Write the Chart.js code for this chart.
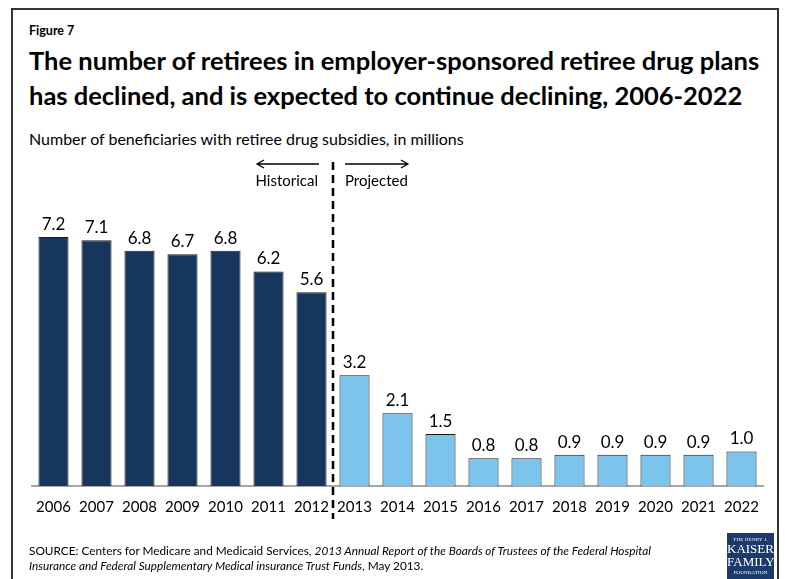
<!DOCTYPE html>
<html>
<head>
<meta charset="utf-8">
<script src="https://cdn.jsdelivr.net/npm/chart.js@4.4.1/dist/chart.umd.min.js"></script>
<style>
  html, body { margin:0; padding:0; background:#fff; }
  body { width:785px; height:579px; position:relative; overflow:hidden; font-family:Lato, "Open Sans", sans-serif; color:#000; }
  #frame { position:absolute; left:11px; top:8px; width:768px; height:620px; border:2px solid #333; box-sizing:border-box; }
  .txt { position:absolute; white-space:nowrap; }
  #fig { left:29px; top:23px; font-size:12.5px; font-weight:bold; }
  #title { left:29px; top:43px; font-size:25.5px; font-weight:bold; line-height:35px; }
  #sub { left:29px; top:129px; font-size:16px; }
  #source { left:29px; top:543px; font-size:11.8px; line-height:15px; }
  #logo { position:absolute; left:727px; top:533px; width:47px; height:46px; background:#1c3b6c; color:#fff;
          font-family:"Liberation Serif", "DejaVu Serif", serif; text-align:center; line-height:1; }
  #logo .s { font-size:5px; letter-spacing:0.2px; }
  #logo .b { font-size:13px; }
  #wrap { position:absolute; left:0; top:0; width:785px; height:579px; }
</style>
</head>
<body>
<div id="frame"></div>
<div class="txt" id="fig">Figure 7</div>
<div class="txt" id="title">The number of retirees in employer-sponsored retiree drug plans<br>has declined, and is expected to continue declining, 2006-2022</div>
<div class="txt" id="sub">Number of beneficiaries with retiree drug subsidies, in millions</div>
<div id="wrap"><canvas id="c"></canvas></div>
<div class="txt" id="source">SOURCE: Centers for Medicare and Medicaid Services, <i>2013 Annual Report of the Boards of Trustees of the Federal Hospital</i><br><i>Insurance and Federal Supplementary Medical insurance Trust Funds</i>, May 2013.</div>
<div id="logo">
  <div class="s" style="padding-top:4px">THE HENRY J.</div>
  <div class="b">KAISER</div>
  <div class="b">FAMILY</div>
  <div class="s" style="padding-top:2px">FOUNDATION</div>
</div>
<script>
// beneficiaries with retiree drug subsidies, millions
const years = ['2006','2007','2008','2009','2010','2011','2012','2013','2014','2015','2016','2017','2018','2019','2020','2021','2022'];
const historical = [7.2, 7.1, 6.8, 6.7, 6.8, 6.2, 5.6];
const projected = [3.2, 2.1, 1.5, 0.8, 0.8, 0.9, 0.9, 0.9, 0.9, 1.0];

const DARK = '#17365d';
const LIGHT = '#7dc4ec';

const values = historical.concat(projected);
const colors = values.map((v, i) => i < historical.length ? DARK : LIGHT);

// value labels above the bars
const barLabels = {
  id: 'barLabels',
  afterDatasetsDraw(chart){
    const ctx = chart.ctx;
    const meta = chart.getDatasetMeta(0);
    ctx.save();
    ctx.font = '17px Lato, sans-serif';
    ctx.fillStyle = '#000';
    ctx.textAlign = 'center';
    ctx.textBaseline = 'alphabetic';
    meta.data.forEach((bar, i) => {
      ctx.fillText(values[i].toFixed(1), bar.x, bar.y - 7);
    });
    ctx.restore();
  }
};

// dashed split between historical and projected years, with arrows
const divider = {
  id: 'divider',
  afterDraw(chart){
    const ctx = chart.ctx;
    const xs = chart.scales.x;
    const n = historical.length;
    const x = Math.round((xs.getPixelForValue(n - 1) + xs.getPixelForValue(n)) / 2);
    ctx.save();
    ctx.strokeStyle = '#000';
    ctx.lineWidth = 2.5;
    ctx.setLineDash([8, 5]);
    ctx.beginPath();
    ctx.moveTo(x, 162);
    ctx.lineTo(x, 519);
    ctx.stroke();

    ctx.setLineDash([]);
    ctx.lineWidth = 1.3;
    const ay = 164;
    // left arrow
    ctx.beginPath();
    ctx.moveTo(x - 14, ay); ctx.lineTo(x - 76, ay);
    ctx.moveTo(x - 69, ay - 4); ctx.lineTo(x - 76, ay); ctx.lineTo(x - 69, ay + 4);
    ctx.stroke();
    // right arrow
    ctx.beginPath();
    ctx.moveTo(x + 12, ay); ctx.lineTo(x + 75, ay);
    ctx.moveTo(x + 68, ay - 4); ctx.lineTo(x + 75, ay); ctx.lineTo(x + 68, ay + 4);
    ctx.stroke();

    ctx.font = '15px Lato, sans-serif';
    ctx.fillStyle = '#000';
    ctx.textBaseline = 'middle';
    ctx.textAlign = 'right';
    ctx.fillText('Historical', x - 15, 181);
    ctx.textAlign = 'left';
    ctx.fillText('Projected', x + 12, 181);
    ctx.restore();
  }
};

new Chart(document.getElementById('c'), {
  type: 'bar',
  data: {
    labels: years,
    datasets: [{
      data: values,
      backgroundColor: colors,
      borderColor: '#1a1a1a',
      borderWidth: 1,
      barPercentage: 0.7,
      categoryPercentage: 1.0
    }]
  },
  options: {
    responsive: true,
    maintainAspectRatio: false,
    animation: false,
    devicePixelRatio: 1,
    layout: { padding: { left: 32, right: 22, top: 140, bottom: 53 } },
    plugins: { legend: { display: false }, tooltip: { enabled: false } },
    scales: {
      x: {
        grid: { display: false },
        border: { display: true, color: '#a6a6a6', width: 2 },
        ticks: { color: '#000', font: { family: 'Lato', size: 15 }, padding: 4, maxRotation: 0, autoSkip: false },
        afterFit(s){ s.height = 40; }
      },
      y: { display: false, min: 0, max: 10 }
    }
  },
  plugins: [barLabels, divider]
});
</script>
</body>
</html>
